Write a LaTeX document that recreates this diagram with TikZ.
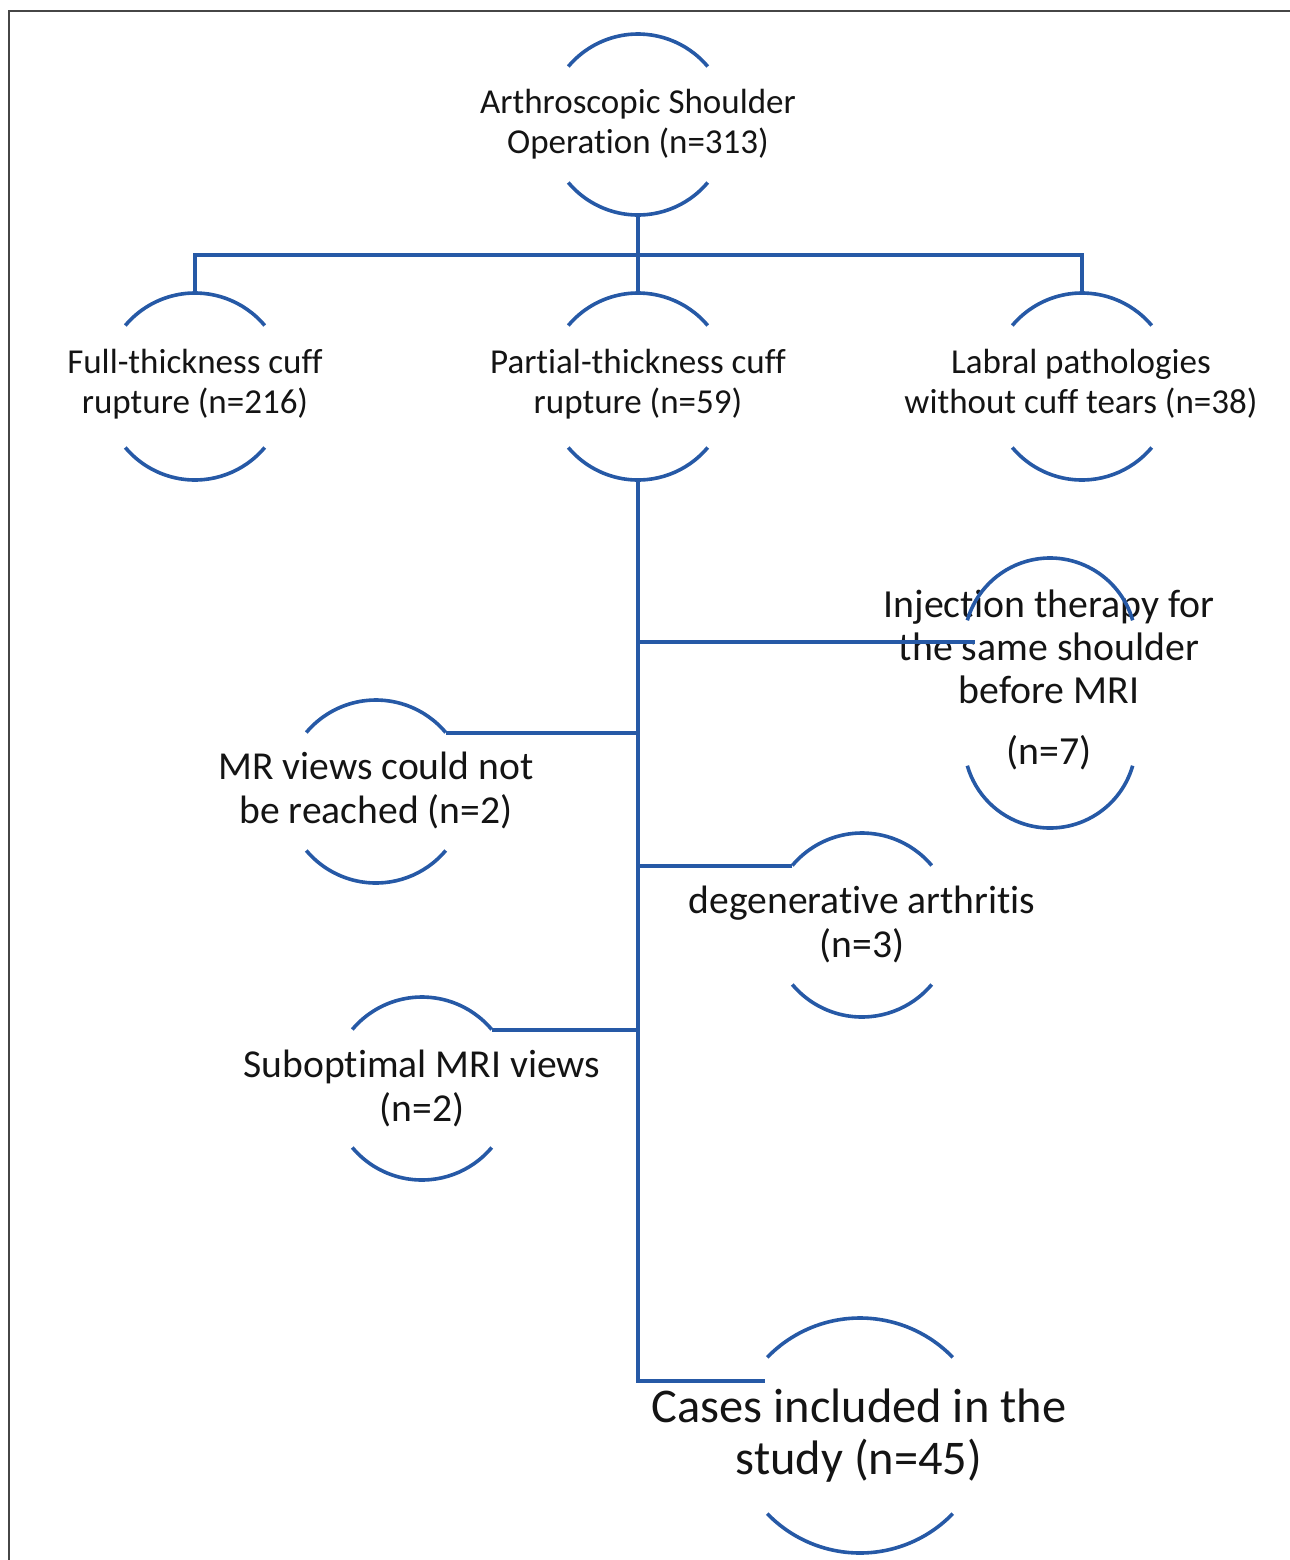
\documentclass[tikz,border=0pt]{standalone}
\usepackage{fontspec}
\setmainfont{Carlito}[Ligatures=NoCommon]
\usepackage{tikz}

\definecolor{flowblue}{RGB}{38,89,166}
\definecolor{framegray}{RGB}{70,70,70}
\definecolor{textdark}{RGB}{20,20,20}

\tikzset{
  ringline/.style={flowblue, line width=1.8pt},
  link/.style={flowblue, line width=2pt},
  casetext/.style={align=center, text=textdark, inner sep=0pt, font=\fontsize{17.5}{20}\selectfont},
  bigtext/.style={casetext, font=\fontsize{19.8}{22}\selectfont},
}

% two open arcs round a case: name, centre x, top y, bottom y, radius, angle
\newcommand{\ringarcs}[6]{%
  \coordinate (#1-t) at (#2,-#3);
  \coordinate (#1-b) at (#2,-#4);
  \draw[ringline] (#1-t) ++(0,-#5) ++(#6:#5) coordinate (#1-tr)
    arc[start angle=#6, end angle=180-#6, radius=#5] coordinate (#1-tl);
  \draw[ringline] (#1-b) ++(0,#5) ++(-#6:#5) coordinate (#1-br)
    arc[start angle=-#6, end angle=-180+#6, radius=#5] coordinate (#1-bl);
}

\begin{document}
\begin{tikzpicture}[x=0.5pt, y=0.5pt]
    \useasboundingbox (0,0) rectangle (1290,-1560);

    % Frame
    \draw[framegray, line width=1pt] (9,-1560) -- (9,-11) -- (1290,-11);

    % Top case
    \node[casetext] (op) at (638,-124) {Arthroscopic Shoulder\\Operation (n=313)};
    \ringarcs{op}{638}{34}{215}{91}{40}

    % Three groups
    \node[casetext] (ft) at (195,-384) {Full-thickness cuff\\rupture (n=216)};
    \ringarcs{ft}{195}{293}{480}{91}{40}
    \node[casetext] (pt) at (638,-384) {Partial-thickness cuff\\rupture (n=59)};
    \ringarcs{pt}{638}{293}{480}{91}{40}
    \node[casetext] (lb) at (1081,-384) {Labral pathologies\\without cuff tears (n=38)};
    \ringarcs{lb}{1082}{293}{480}{91}{40}

    % Exclusions
    \node[bigtext, font=\fontsize{19.9}{21.5}\selectfont] (inj) at (1049,-680)
        {Injection therapy for\\the same shoulder\\before MRI\\[9pt](n=7)};
    \ringarcs{inj}{1050}{558}{828}{86}{16}
    \node[bigtext] (mr) at (376,-790) {MR views could not\\be reached (n=2)};
    \ringarcs{mr}{376}{700}{883}{91}{40}
    \node[bigtext] (dg) at (862,-924) {degenerative arthritis\\(n=3)};
    \ringarcs{dg}{862}{833}{1017}{91}{40}
    \node[bigtext] (so) at (422,-1088) {Suboptimal MRI views\\(n=2)};
    \ringarcs{so}{422}{997}{1180}{91}{40}

    % Final case
    \node[casetext, font=\fontsize{24.2}{26}\selectfont] (cs) at (859,-1436)
        {Cases included in the\\study (n=45)};
    \ringarcs{cs}{860}{1318}{1553}{129}{44}

    % Connectors
    \coordinate (bar) at (638,-255);
    \coordinate (spine-end) at (638,-1381);
    \coordinate (cs-in) at (765,-1381);
    \coordinate (inj-in) at (975,-642);
    \draw[link] (op-b) -- (pt-t);
    \draw[link] (ft-t) |- (bar) -| (lb-t);
    \draw[link] (pt-b) -- (spine-end) -- (cs-in);
    \draw[link] (inj-in -| pt-b) -- (inj-in);
    \draw[link] (mr-tr) -- (mr-tr -| pt-b);
    \draw[link] (dg-tl) -- (dg-tl -| pt-b);
    \draw[link] (so-tr) -- (so-tr -| pt-b);
\end{tikzpicture}
\end{document}
